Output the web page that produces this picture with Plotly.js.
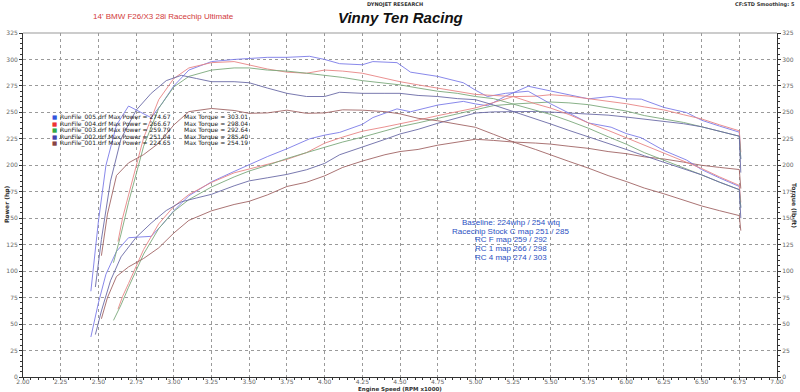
<!DOCTYPE html>
<html><head><meta charset="utf-8">
<script src="https://cdn.plot.ly/plotly-3.0.1.min.js"></script>
<style>html,body{margin:0;padding:0;background:#fff;}#chart{width:800px;height:392px;}</style>
</head><body><div id="chart"></div>
<script>
// ---- data ----
const runNames = ["RunFile_005.drf","RunFile_004.drf","RunFile_003.drf","RunFile_002.drf","RunFile_001.drf"];
const maxPower = ["274.67","266.67","259.79","251.04","224.65"];
const maxTorque = ["303.01","298.04","292.64","285.40","254.19"];
const noteLines = ["Baseline: 224whp / 254 wtq","Racechip Stock C map 251 / 285","RC F map 259 / 292","RC 1 map 266 / 298","RC 4 map 274 / 303"];
const xTicks = [2.00,2.25,2.50,2.75,3.00,3.25,3.50,3.75,4.00,4.25,4.50,4.75,5.00,5.25,5.50,5.75,6.00,6.25,6.50,6.75,7.00];
const yTicks = [0,25,50,75,100,125,150,175,200,225,250,275,300,325];

const rpm005 = [2.45,2.50,2.55,2.62,2.70,2.78,2.85,2.92,3.00,3.10,3.25,3.40,3.50,3.62,3.75,3.90,4.00,4.10,4.25,4.32,4.48,4.57,4.75,4.92,5.00,5.08,5.20,5.35,5.50,5.65,5.75,5.90,6.00,6.10,6.25,6.40,6.50,6.62,6.75,6.76];
const hp005  = [37.8,70.0,97.1,118.7,131.6,132.3,132.9,143.4,157.1,171.2,184.4,194.2,200.6,208.2,215.6,225.0,228.5,231.1,238.7,245.1,253.3,250.6,256.9,260.4,258.0,256.3,265.3,274.7,270.2,265.7,262.8,265.1,262.8,262.5,254.7,249.8,242.6,237.0,231.3,205.9];
const tq005  = [81,147,200,238,256,250,245,258,275,290,298,300,301,302,302,303,300,296,295,298,297,288,284,278,271,265,268,270,258,247,240,236,230,226,214,205,196,188,180,160];

const rpm004 = [2.63,2.66,2.70,2.80,2.90,3.00,3.10,3.25,3.40,3.50,3.62,3.75,3.88,4.00,4.12,4.25,4.40,4.50,4.62,4.75,4.88,5.00,5.12,5.25,5.40,5.50,5.62,5.75,5.88,6.00,6.12,6.25,6.38,6.50,6.62,6.75,6.76];
const hp004  = [64.1,76.0,88.4,120.5,144.7,161.1,172.4,183.8,192.9,196.6,200.6,205.6,212.0,220.9,226.7,232.2,236.3,239.0,242.8,246.9,250.9,254.2,259.3,264.9,265.3,266.7,265.4,262.8,260.9,258.2,255.2,252.3,247.8,243.8,238.2,232.6,212.4];
const tq004  = [128,150,172,226,262,282,292,297,298,295,291,288,287,290,289,287,282,279,276,273,270,267,266,265,258,254,248,240,233,226,219,212,204,197,189,181,165];

const rpm003 = [2.60,2.65,2.70,2.80,2.90,3.00,3.10,3.25,3.40,3.50,3.62,3.75,3.88,4.00,4.12,4.25,4.40,4.50,4.62,4.75,4.88,5.00,5.12,5.25,5.40,5.50,5.62,5.75,5.88,6.00,6.12,6.25,6.38,6.50,6.62,6.75,6.76];
const hp003  = [53.5,68.1,84.8,116.2,140.3,156.5,167.6,179.5,189.0,194.6,199.9,206.4,212.0,217.1,222.0,226.6,232.9,236.5,240.1,244.2,249.0,252.3,256.4,257.9,259.1,259.8,259.0,257.3,254.1,251.3,247.0,244.0,240.5,236.4,231.9,227.5,205.9];
const tq003  = [108,135,165,218,254,274,284,290,292,292,290,289,287,285,283,280,278,276,273,270,268,265,263,258,252,248,242,235,227,220,212,205,198,191,184,177,160];

const rpm002 = [2.48,2.52,2.58,2.65,2.75,2.85,2.95,3.05,3.15,3.25,3.40,3.50,3.62,3.75,3.88,4.00,4.10,4.25,4.40,4.50,4.62,4.75,4.88,5.00,5.12,5.25,5.40,5.50,5.62,5.75,5.88,6.00,6.12,6.25,6.38,6.50,6.62,6.75,6.76];
const hp002  = [40.1,62.4,90.9,113.5,131.9,145.4,157.3,165.5,169.1,172.6,180.6,185.3,188.2,191.4,195.8,201.8,210.0,216.9,224.5,229.6,234.0,239.7,244.4,249.4,250.5,251.0,250.9,250.3,249.3,248.5,247.4,245.6,243.5,241.6,239.3,236.4,231.9,227.5,193.1];
const tq002  = [85,130,185,225,252,268,280,285,282,279,279,278,273,268,265,265,269,268,268,268,266,265,263,262,257,251,244,239,233,227,221,215,209,203,197,191,184,177,150];

const rpm001 = [2.52,2.56,2.62,2.70,2.80,2.90,3.00,3.10,3.25,3.40,3.50,3.62,3.75,3.88,4.00,4.12,4.25,4.40,4.50,4.62,4.75,4.88,5.00,5.12,5.25,5.40,5.50,5.62,5.75,5.88,6.00,6.12,6.25,6.38,6.50,6.62,6.75,6.76];
const hp001  = [55,75,95,104,112,122,136,148,157,163,166,172,180,184,190,198,204,210,213,215,219,222,224.6,223.5,222,221,220,218,216,213,211,208,206,203,200,198,196,178];
const tq001  = [114.6,153.9,190.4,202.3,210.1,220.9,238.1,250.7,253.7,251.8,249.1,249.5,252.1,249.1,249.5,252.4,252.1,250.7,248.6,244.4,242.1,238.9,235.9,229.3,222.1,214.9,210.1,203.7,197.3,190.3,184.7,178.5,173.1,167.1,161.6,157.1,152.5,138.3];

// ---- styling ----
const lineColors = ["#7a7ae8","#e88484","#7aa87a","#6a6aa6","#a06464"];
const boxColors  = ["#3355dd","#ee3333","#33aa44","#4444aa","#884444"];
const runs = [[rpm005,hp005,tq005],[rpm004,hp004,tq004],[rpm003,hp003,tq003],[rpm002,hp002,tq002],[rpm001,hp001,tq001]];

const traces = [];
runs.forEach((r,i)=>{
  traces.push({x:r[0], y:r[1], type:'scatter', mode:'lines', name:runNames[i]+' power',
    line:{color:lineColors[i], width:0.9}, showlegend:false, hoverinfo:'skip'});
  traces.push({x:r[0], y:r[2], type:'scatter', mode:'lines', name:runNames[i]+' torque', yaxis:'y2',
    line:{color:lineColors[i], width:0.9}, showlegend:false, hoverinfo:'skip'});
});

const L=23, R=777, T=33, B=377;
const px = x => (x-L)/(R-L);
const py = y => (B-y)/(B-T);
const ann = [];
const tickFont = {family:'DejaVu Sans', size:6, color:'#666'};

ann.push({xref:'paper',yref:'paper',x:px(163),y:py(17),text:"14' BMW F26/X3 28i Racechip Ultimate",showarrow:false,
  font:{family:'Liberation Sans, Arial',size:8,color:'#d23a3a'},xanchor:'center',yanchor:'middle'});
ann.push({xref:'paper',yref:'paper',x:px(400),y:py(18),text:"<b><i>Vinny Ten Racing</i></b>",showarrow:false,
  font:{family:'Liberation Sans, Arial',size:15,color:'#111'},xanchor:'center',yanchor:'middle'});
ann.push({xref:'paper',yref:'paper',x:px(395),y:py(4),text:"<b>DYNOJET RESEARCH</b>",showarrow:false,
  font:{family:'DejaVu Sans',size:5,color:'#333'},xanchor:'center',yanchor:'middle'});
ann.push({xref:'paper',yref:'paper',x:px(797),y:py(4),text:"<b>CF:STD Smoothing: 5</b>",showarrow:false,
  font:{family:'DejaVu Sans',size:5,color:'#333'},xanchor:'right',yanchor:'middle'});
ann.push({xref:'paper',yref:'paper',x:px(400),y:py(389),text:"<b>Engine Speed (RPM x1000)</b>",showarrow:false,
  font:{family:'DejaVu Sans',size:5.5,color:'#333'},xanchor:'center',yanchor:'middle'});
ann.push({xref:'paper',yref:'paper',x:px(7),y:py(205),text:"<b>Power (hp)</b>",textangle:-90,showarrow:false,
  font:{family:'DejaVu Sans',size:6,color:'#333'},xanchor:'center',yanchor:'middle'});
ann.push({xref:'paper',yref:'paper',x:px(794),y:py(205),text:"<b>Torque (lb-ft)</b>",textangle:90,showarrow:false,
  font:{family:'DejaVu Sans',size:6,color:'#333'},xanchor:'center',yanchor:'middle'});

runNames.forEach((n,i)=>{
  const yy = 117 + i*6.5;
  ann.push({xref:'paper',yref:'paper',x:px(51),y:py(yy),text:'■',showarrow:false,borderpad:0,
    font:{family:'DejaVu Sans',size:5.5,color:boxColors[i]},xanchor:'left',yanchor:'middle'});
  ann.push({xref:'paper',yref:'paper',x:px(59),y:py(yy),text:n+' Max Power = '+maxPower[i],showarrow:false,borderpad:0,
    font:{family:'DejaVu Sans',size:6,color:'#222'},xanchor:'left',yanchor:'middle'});
  ann.push({xref:'paper',yref:'paper',x:px(183),y:py(yy),text:'Max Torque = '+maxTorque[i],showarrow:false,borderpad:0,
    font:{family:'DejaVu Sans',size:6,color:'#222'},xanchor:'left',yanchor:'middle'});
});

noteLines.forEach((t,i)=>{
  ann.push({xref:'paper',yref:'paper',x:px(511),y:py(222.5+i*8.7),text:t,showarrow:false,
    font:{family:'Liberation Sans, Arial',size:8,color:'#2a4fc2'},xanchor:'center',yanchor:'middle'});
});

const gridStyle = {showgrid:true, gridcolor:'#9a9a9a', griddash:'dot', gridwidth:1};
const layout = {
  width:800, height:392,
  margin:{l:L, r:800-R, t:T, b:392-B, pad:0},
  paper_bgcolor:'#fff', plot_bgcolor:'#fff',
  showlegend:false,
  font:{family:'DejaVu Sans', size:6, color:'#666'},
  xaxis:Object.assign({range:[2,7], tickvals:xTicks, ticktext:xTicks.map(v=>v.toFixed(2)), ticks:'outside', ticklen:2, tickcolor:'#333',
    ticklabelstandoff:-3,
    showline:true, linecolor:'#333', linewidth:1, zeroline:false, tickfont:tickFont,
    minor:{ticks:'outside', ticklen:2, dtick:0.05, tick0:2, tickcolor:'#333', showgrid:false}}, gridStyle),
  yaxis:Object.assign({range:[0,325], tickvals:yTicks, ticks:'outside', ticklen:3, tickcolor:'#333',
    showline:true, linecolor:'#333', linewidth:1, zeroline:false, tickfont:tickFont,
    minor:{ticks:'outside', ticklen:2, dtick:5, tick0:0, tickcolor:'#333', showgrid:false}}, gridStyle),
  yaxis2:{range:[0,325], overlaying:'y', side:'right', tickvals:yTicks, ticks:'outside', ticklen:3, tickcolor:'#333',
    showline:true, linecolor:'#333', linewidth:1, zeroline:false, showgrid:false, tickfont:tickFont,
    minor:{ticks:'outside', ticklen:2, dtick:5, tick0:0, tickcolor:'#333'}},
  shapes:[{type:'line', xref:'paper', yref:'paper', x0:0, x1:1, y0:1, y1:1, line:{color:'#999', width:1}}],
  annotations:ann
};
Plotly.newPlot('chart', traces, layout, {staticPlot:true, displayModeBar:false});
</script>
</body></html>
